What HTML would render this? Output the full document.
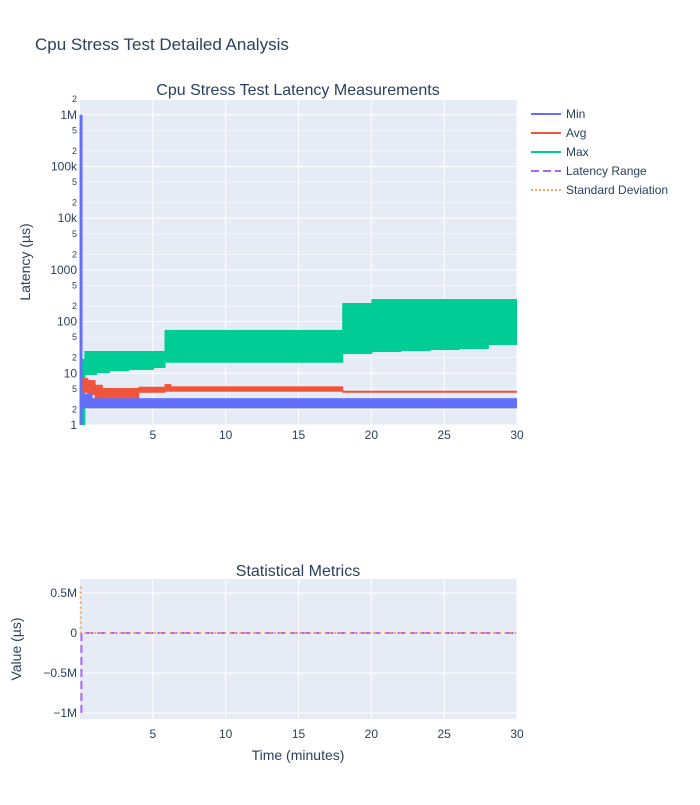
<!DOCTYPE html>
<html><head><meta charset="utf-8"><style>
body{margin:0;background:#fff;font-family:"Liberation Sans","DejaVu Sans",sans-serif}
svg text{font-family:"Liberation Sans","DejaVu Sans",sans-serif;fill:#2a3f5f}
</style></head><body>
<svg id="c" width="700" height="800" xmlns="http://www.w3.org/2000/svg">
<rect width="700" height="800" fill="#fff"/>
<text x="35" y="50" font-size="17">Cpu Stress Test Detailed Analysis</text>
<text x="298" y="95" font-size="16" text-anchor="middle">Cpu Stress Test Latency Measurements</text>
<text x="298" y="576" font-size="16" text-anchor="middle">Statistical Metrics</text>
<rect x="80" y="100" width="437" height="325" fill="#e5ecf6"/>
<rect x="80" y="579" width="437" height="140" fill="#e5ecf6"/>
<g id="g1"></g><g id="g2"></g>
<text transform="translate(30,262) rotate(-90)" font-size="14" text-anchor="middle">Latency (µs)</text>
<text transform="translate(21,649) rotate(-90)" font-size="14" text-anchor="middle">Value (µs)</text>
<text x="298" y="760" font-size="14" text-anchor="middle">Time (minutes)</text>
<g font-size="12">
<g><line x1="531" y1="114" x2="561" y2="114" stroke="#636efa" stroke-width="2"/><text x="566" y="118">Min</text></g>
<g><line x1="531" y1="133" x2="561" y2="133" stroke="#ef553b" stroke-width="2"/><text x="566" y="137">Avg</text></g>
<g><line x1="531" y1="152" x2="561" y2="152" stroke="#00cc96" stroke-width="2"/><text x="566" y="156">Max</text></g>
<g><line x1="531" y1="171" x2="561" y2="171" stroke="#ab63fa" stroke-width="2" stroke-dasharray="8,4"/><text x="566" y="175">Latency Range</text></g>
<g><line x1="531" y1="190" x2="561" y2="190" stroke="#ffa15a" stroke-width="2" stroke-dasharray="2,2"/><text x="566" y="194">Standard Deviation</text></g>
</g>
</svg>
<script>
// segment bands: [start, end, low, high]
const minSeg=[[0,0.8,2.1,4.0],[0.8,30,2.1,3.3]];
const minSpike=[[0.07,1],[0.07,1000000]];
const avgSeg=[[0.1,0.5,4.2,8.1],[0.5,1,3.8,7.4],[1,1.5,3.0,6.0],[1.5,4,3.0,5.2],[4,5.8,4.2,5.5],[5.8,6.2,4.4,6.2],[6.2,18,4.4,5.6],[18,30,4.2,4.6]];
const maxSeg=[[0,0.3,1,19],[0.3,1.1,9.3,27],[1.1,2,10.1,27],[2,3.3,11,27],[3.3,5,11.6,27],[5,5.8,12.7,27],[5.8,18,16,69],[18,20,23.6,229],[20,22,25.8,273],[22,24,27,273],[24,26,28.2,273],[26,28,29.5,273],[28,30,35.3,273]];
const rangeT=[0.1,0.1,0.3,30];
const rangeV=[-1000000,0,0,0];
const stdT=[0.05,0.05,0.3,30];
const stdV=[580000,0,0,0];
const xTicks=[5,10,15,20,25,30];
const yMajor=[1,10,100,1000,10000,100000,1000000];
const yMajorLbl=["1","10","100","1000","10k","100k","1M"];
const y2Ticks=[500000,0,-500000,-1000000];
const y2Lbl=["0.5M","0","−0.5M","−1M"];

const NS="http://www.w3.org/2000/svg";
const X=t=>80+t*437/30;
const Y=v=>425-Math.log10(v)*51.7;
const Y2=v=>633-v*80/1e6;
function mk(p,tag,a){const e=document.createElementNS(NS,tag);for(const k in a)e.setAttribute(k,a[k]);p.appendChild(e);return e;}
const g1=document.getElementById('g1'),g2=document.getElementById('g2');
yMajor.forEach((v,i)=>{
  [1,2,5].forEach(m=>{const vv=v*m;if(Math.log10(vv)>6.32)return;
    const l=mk(g1,'line',{x1:80,x2:517,y1:Y(vv),y2:Y(vv),stroke:'#fff','stroke-width':m==1?1:0.6});
    
    
    const t=mk(g1,'text',{x:77,y:Y(vv)+(m==1?4:3),'font-size':m==1?12:9,'text-anchor':'end'});
    t.textContent=m==1?yMajorLbl[i]:String(m);
    
    
  });
});
xTicks.forEach(v=>{
  [[g1,100,425,439],[g2,579,719,738]].forEach(([g,a,b,ty])=>{
    const l=mk(g,'line',{x1:X(v),x2:X(v),y1:a,y2:b,stroke:'#fff'});
    
    
    const t=mk(g,'text',{x:X(v),y:ty,'font-size':12,'text-anchor':'middle'});t.textContent=v;
    
    
  });
});
y2Ticks.forEach((v,i)=>{
  const l=mk(g2,'line',{x1:80,x2:517,y1:Y2(v),y2:Y2(v),stroke:'#fff','stroke-width':v==0?2:1});
  
  
  const t=mk(g2,'text',{x:77,y:Y2(v)+4,'font-size':12,'text-anchor':'end'});t.textContent=y2Lbl[i];
  
  
});
function band(segs,color,name){segs.forEach((s,i)=>{
  const last=i==segs.length-1;
  const r=mk(g1,'rect',{x:X(s[0]),width:Math.max(1,X(s[1])-X(s[0])+(last?0:1)),y:Y(s[3]),height:Math.max(2,Y(s[2])-Y(s[3])),fill:color});
  
  
});}
band(maxSeg,'#00cc96','max-band');
band(avgSeg,'#ef553b','avg-band');
band(minSeg,'#636efa','min-band');
const sp=mk(g1,'line',{x1:X(minSpike[0][0]),x2:X(minSpike[1][0]),y1:Y(minSpike[0][1]),y2:Y(minSpike[1][1]),stroke:'#636efa','stroke-width':3});


function line(T,V,color,dash,name){
  const p=mk(g2,'polyline',{points:T.map((t,i)=>X(t)+','+Y2(V[i])).join(' '),fill:'none',stroke:color,'stroke-width':2,'stroke-dasharray':dash});
  
  
}
line(rangeT,rangeV,'#ab63fa','8,4','latency-range-line');
line(stdT,stdV,'#ffa15a','2,3','std-dev-line');
</script>
</body></html>
